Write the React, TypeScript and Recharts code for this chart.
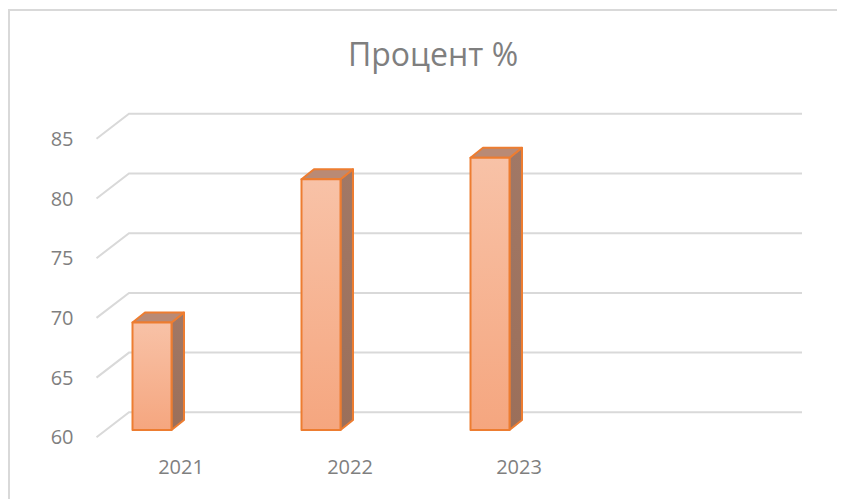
import React from "react";
import { BarChart, Bar, XAxis, YAxis, CartesianGrid } from "recharts";

const categories = ["2021", "2022", "2023", ""];
const percentValues: (number | null)[] = [69, 81, 82.8, null];
const yTicks = [60, 65, 70, 75, 80, 85];
const title = "Процент %";

const data = categories.map((c, i) => ({ year: c, value: percentValues[i] }));

const FONT = "'Open Sans', 'Noto Sans', sans-serif";
const TEXT = "#7f7f7f";
const GRID = "#d9d9d9";

const WALL_DX = 32.5;
const WALL_DY = -25;

const GridLine = (props: any) => {
  const { x1, y1, x2 } = props;
  const bx = x1 + WALL_DX;
  const by = y1 + WALL_DY;
  return (
    <polyline
      key={props.key}
      points={`${x1},${y1} ${bx},${by} ${x2 + 29.5},${by}`}
      fill="none"
      stroke={GRID}
      strokeWidth={2}
    />
  );
};

const Bar3D = (props: any) => {
  const { x, y, width, height } = props;
  if (height == null || !(height > 0)) return null;
  const fx = x - 29;
  const fy = y - 7.3;
  const w = width;
  const h = height;
  const dx = 12.5;
  const dy = -10;
  return (
    <g>
      <polygon
        points={`${fx + w},${fy} ${fx + w + dx},${fy + dy} ${fx + w + dx},${fy + h + dy} ${fx + w},${fy + h}`}
        fill="url(#sideGrad)"
        stroke="#ed7d31"
        strokeWidth={2}
        strokeLinejoin="round"
      />
      <polygon
        points={`${fx},${fy} ${fx + dx},${fy + dy} ${fx + w + dx},${fy + dy} ${fx + w},${fy}`}
        fill="#b98a75"
        stroke="#ed7d31"
        strokeWidth={2}
        strokeLinejoin="round"
      />
      <rect
        x={fx}
        y={fy}
        width={w}
        height={h}
        fill="url(#frontGrad)"
        stroke="#ed7d31"
        strokeWidth={2}
        strokeLinejoin="round"
      />
    </g>
  );
};

export default function App() {
  return (
    <div style={{ position: "relative", width: 837, height: 491 }}>
      <div
        style={{
          position: "absolute",
          left: 0,
          top: 1,
          width: 837,
          height: 500,
          borderLeft: `2px solid ${GRID}`,
          borderTop: `2px solid ${GRID}`,
          pointerEvents: "none",
        }}
      />
      <div
        style={{
          position: "absolute",
          left: 0,
          top: 24,
          width: 850,
          textAlign: "center",
          fontFamily: FONT,
          fontSize: 32,
          color: TEXT,
          lineHeight: "normal",
          whiteSpace: "nowrap",
        }}
      >
        {title}
      </div>
      <BarChart
        width={837}
        height={491}
        data={data}
        margin={{ top: 130.8, right: 72.5, bottom: 31.7, left: 28.5 }}
      >
        <defs>
          <linearGradient id="frontGrad" x1="0" y1="0" x2="0" y2="1">
            <stop offset="0%" stopColor="#f8c2a7" />
            <stop offset="100%" stopColor="#f5a67f" />
          </linearGradient>
          <linearGradient id="sideGrad" x1="0" y1="0" x2="0" y2="1">
            <stop offset="0%" stopColor="#a17866" />
            <stop offset="100%" stopColor="#9b6f5a" />
          </linearGradient>
        </defs>
        <CartesianGrid horizontal={GridLine} vertical={false} />
        <XAxis
          dataKey="year"
          axisLine={false}
          tickLine={false}
          tickSize={0}
          tickMargin={22.5}
          height={30}
          interval={0}
          tick={{ fill: TEXT, fontSize: 20, fontFamily: FONT }}
        />
        <YAxis
          domain={[60, 85]}
          ticks={yTicks}
          axisLine={false}
          tickLine={false}
          tickSize={0}
          tickMargin={23}
          width={60}
          allowDataOverflow
          tick={{ fill: TEXT, fontSize: 20, fontFamily: FONT }}
        />
        <Bar
          dataKey="value"
          barSize={39}
          shape={Bar3D}
          isAnimationActive={false}
        />
      </BarChart>
    </div>
  );
}
